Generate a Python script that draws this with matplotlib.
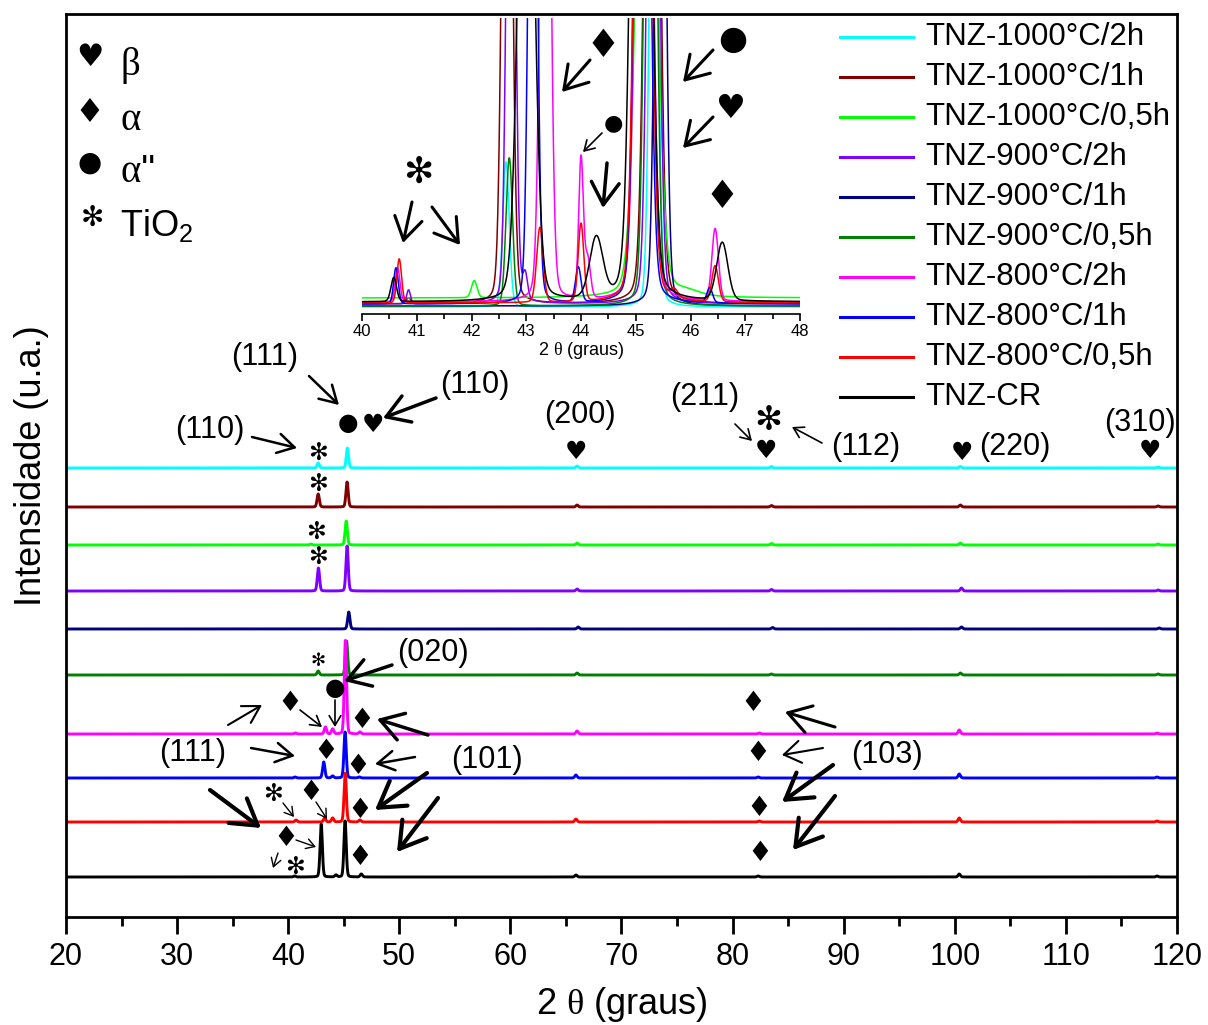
import numpy as np
import matplotlib
matplotlib.use("Agg")
import matplotlib.pyplot as plt
import matplotlib.transforms as mtransforms
from matplotlib.patches import FancyArrowPatch
from matplotlib.lines import Line2D

plt.rcParams['font.family'] = ['Liberation Sans', 'DejaVu Sans']
plt.rcParams['mathtext.fontset'] = 'custom'
plt.rcParams['mathtext.rm'] = 'Liberation Serif'
plt.rcParams['mathtext.sf'] = 'Liberation Sans'

# ---------------- data ----------------
labels = ["TNZ-1000°C/2h", "TNZ-1000°C/1h", "TNZ-1000°C/0,5h",
          "TNZ-900°C/2h", "TNZ-900°C/1h", "TNZ-900°C/0,5h",
          "TNZ-800°C/2h", "TNZ-800°C/1h", "TNZ-800°C/0,5h", "TNZ-CR"]
colors = ["#00FFFF", "#800000", "#00FF00", "#8000FF", "#000080",
          "#008000", "#FF00FF", "#0000FF", "#FF0000", "#000000"]

# vertical offset of each pattern in the stacked plot (u.a.)
offsets = [449, 410, 372, 326, 288, 242, 183, 139, 95, 40]

# reflections of the full scan: (2theta, intensity)
main_peaks = [
    [(42.70, 5), (45.33, 20), (66.0, 2), (83.5, 1.5), (100.5, 1.5), (118.3, 1)],
    [(42.70, 13), (45.30, 25), (66.0, 2), (83.5, 1.5), (100.5, 2), (118.3, 1)],
    [(42.05, 1), (45.22, 24), (66.0, 2), (83.5, 1.5), (100.5, 2), (118.3, 1)],
    [(42.72, 23), (45.30, 45), (66.0, 2), (83.5, 1.5), (100.6, 3), (118.3, 1)],
    [(45.45, 17), (66.1, 2), (83.6, 1.5), (100.6, 2), (118.4, 1)],
    [(42.70, 4), (45.25, 34), (66.0, 2), (83.5, 1), (100.5, 2), (118.3, 1)],
    [(40.65, 1), (43.35, 7), (44.0, 5), (45.15, 94), (46.45, 2), (66.0, 3),
     (82.4, 1), (100.4, 4), (118.2, 1)],
    [(40.62, 1), (43.20, 16), (44.0, 2), (45.12, 46), (46.40, 1), (65.9, 3),
     (82.3, 1), (100.4, 4), (118.2, 1)],
    [(40.70, 2), (43.28, 4), (44.0, 4), (45.13, 49), (46.45, 2), (65.9, 3),
     (82.4, 1), (100.4, 4), (118.2, 1)],
    [(40.58, 1), (42.97, 53), (44.3, 2), (45.12, 56), (46.58, 3), (65.9, 2),
     (82.3, 1), (100.4, 3), (118.2, 1)],
]

# detail 40-48 degrees: background level and (2theta, intensity, hwhm)
inset_base = [7, 10, 16, 10, 8, 8, 12, 10, 11, 12]
inset_peaks = [
    [(42.63, 145, 0.07), (45.33, 700, 0.08)],
    [(40.85, 6, 0.05), (42.65, 900, 0.09), (45.30, 1200, 0.12)],
    [(42.05, 17, 0.06), (45.20, 800, 0.18), (45.90, 5, 0.30)],
    [(40.85, 14, 0.04), (42.72, 800, 0.08), (42.98, 25, 0.05), (45.32, 1000, 0.10)],
    [(45.45, 1000, 0.09)],
    [(42.69, 148, 0.07), (45.27, 1000, 0.10)],
    [(40.65, 34, 0.05), (43.35, 900, 0.09), (44.00, 140, 0.05), (44.12, 40, 0.06),
     (45.15, 1200, 0.13), (46.45, 72, 0.07)],
    [(40.62, 36, 0.05), (43.12, 800, 0.08), (43.95, 35, 0.06), (45.12, 1200, 0.12),
     (46.35, 15, 0.06)],
    [(40.68, 44, 0.05), (43.25, 75, 0.07), (44.00, 78, 0.06), (45.13, 1200, 0.13),
     (45.70, 8, 0.08), (46.45, 36, 0.07)],
    [(40.58, 24, 0.06), (43.00, 700, 0.15), (44.28, 60, 0.14), (45.10, 1400, 0.15),
     (46.58, 58, 0.12)],
]


def pattern(x, peaks, hwhm=None, eta=0.3):
    y = np.zeros_like(x)
    for p in peaks:
        c, h = p[0], p[1]
        w = p[2] if len(p) > 2 else hwhm
        d = (x - c) / w
        y += h * ((1 - eta) * np.exp(-np.log(2) * d ** 2) + eta / (1 + d ** 2))
    return y


# ---------------- figure ----------------
W, H = 1208, 1025
fig = plt.figure(figsize=(W / 100, H / 100), dpi=100)
PX = mtransforms.Affine2D().scale(1 / W, -1 / H).translate(0, 1) + fig.transFigure

ax = fig.add_axes([66 / W, 1 - 917 / H, (1177 - 66) / W, (917 - 14) / H])
x = np.arange(20, 120.0001, 0.02)
for lab, col, off, pk in zip(labels, colors, offsets, main_peaks):
    ax.plot(x, off + pattern(x, pk, hwhm=0.12, eta=0.15), color=col, lw=2.1)

ax.set_xlim(20, 120)
ax.set_ylim(0, 903)
ax.set_yticks([])
ax.set_xticks(np.arange(20, 121, 10))
ax.set_xticks(np.arange(25, 120, 10), minor=True)
ax.tick_params(axis='x', which='major', direction='out', length=12, width=2,
               labelsize=22, pad=6)
ax.tick_params(axis='x', which='minor', direction='out', length=6.5, width=2)
for s in ax.spines.values():
    s.set_linewidth(2)
ax.set_xlabel(r"2 $\mathrm{\theta}$ (graus)", fontsize=26, labelpad=9)
ax.set_ylabel("Intensidade (u.a.)", fontsize=26, labelpad=12)

# ---------------- inset ----------------
axi = fig.add_axes([362 / W, 1 - 314 / H, (800 - 362) / W, (314 - 18) / H])
axi.patch.set_alpha(0)
xi = np.arange(40, 48.0001, 0.005)
for col, base, pk in zip(colors, inset_base, inset_peaks):
    axi.plot(xi, base + pattern(xi, pk, eta=0.12), color=col, lw=1.1)
axi.set_xlim(40, 48)
axi.set_ylim(0, 296)
axi.set_yticks([])
for side in ('top', 'left', 'right'):
    axi.spines[side].set_visible(False)
axi.spines['bottom'].set_linewidth(1.2)
axi.set_xticks(np.arange(40, 49, 1))
axi.set_xticks(np.arange(40.5, 48, 1), minor=True)
axi.tick_params(axis='x', which='major', direction='out', length=5, width=1.2,
                labelsize=12, pad=2)
axi.tick_params(axis='x', which='minor', direction='out', length=3.5, width=1.2)
axi.set_xlabel(r"2 $\mathrm{\theta}$ (graus)", fontsize=13, labelpad=1)

# ---------------- legends ----------------
for i, (lab, col) in enumerate(zip(labels, colors)):
    yy = 37 + 40 * i
    fig.add_artist(Line2D([840, 913], [yy, yy], color=col, lw=2.2, transform=PX))
    fig.text(925, yy, lab, transform=PX, fontsize=22.5, va='center', ha='left')

SYM = ['DejaVu Sans']


def sym(x0, y0, s, size):
    fig.text(x0, y0, s, transform=PX, fontsize=size, ha='center', va='center',
             family=SYM)


def txt(x0, y0, s, size=22, **kw):
    fig.text(x0, y0, s, transform=PX, fontsize=size, ha='center', va='center', **kw)


def arrow(x1, y1, x2, y2, lw=2.5, head=(0.8, 0.5), ms=20):
    style = "->,head_length=%g,head_width=%g" % head
    fig.add_artist(FancyArrowPatch((x1, y1), (x2, y2), transform=PX,
                                   arrowstyle=style, mutation_scale=ms, lw=lw,
                                   color='black', shrinkA=0, shrinkB=0))


# phase key
sym(90, 58, '♥', 22)
sym(89, 112, '♦', 24)
sym(90, 163, '●', 20)
sym(92, 218, '✻', 20)
fig.text(120, 66, r"$\mathrm{\beta}$", transform=PX, fontsize=28, va='center')
fig.text(120, 120, r"$\mathrm{\alpha}$", transform=PX, fontsize=28, va='center')
fig.text(120, 172, r"$\mathrm{\alpha}$''", transform=PX, fontsize=28, va='center')
fig.text(120, 225, r"TiO$_\mathsf{2}$", transform=PX, fontsize=26, va='center')

# beta / alpha'' reflections above the top pattern
txt(265, 357, "(111)")
arrow(309, 376, 339, 405, lw=1.8, head=(0.6, 0.35))
sym(348, 423, '●', 17)
sym(373, 425, '♥', 18)
txt(475, 385, "(110)")
arrow(436, 398, 383, 418, lw=2.5)
txt(210, 430, "(110)")
arrow(252, 437, 297, 448, lw=1.8, head=(0.6, 0.35))
sym(318, 453, '✻', 17)
txt(580, 415, "(200)")
sym(576, 452, '♥', 18)
txt(705, 397, "(211)")
arrow(735, 424, 752, 441, lw=1.2, head=(0.5, 0.3), ms=14)
sym(768, 421, '✻', 24)
sym(766, 451, '♥', 18)
arrow(822, 443, 792, 427, lw=1.2, head=(0.5, 0.3), ms=14)
txt(866, 447, "(112)")
sym(962, 453, '♥', 18)
txt(1015, 447, "(220)")
txt(1140, 423, "(310)")
sym(1150, 451, '♥', 18)

# TiO2 marks on the stacked patterns
sym(318, 484, '✻', 17)
sym(316, 532, '✻', 17)
sym(318, 557, '✻', 17)
sym(318, 661, '✻', 13)

# alpha / alpha'' reflections on the lower patterns
txt(433, 653, "(020)")
arrow(392, 665, 344, 681, lw=2.5)
sym(335, 688, '●', 17)
arrow(335, 700, 335, 727, lw=1.2, head=(0.5, 0.3), ms=14)
sym(290, 703, '♦', 20)
arrow(300, 710, 322, 727, lw=1.2, head=(0.5, 0.3), ms=14)
arrow(228, 725, 262, 705, lw=1.5, head=(0.6, 0.35))
sym(362, 720, '♦', 20)
arrow(428, 735, 377, 719, lw=2.5)
txt(193, 753, "(111)")
arrow(251, 748, 295, 756, lw=1.8, head=(0.6, 0.35))
sym(326, 751, '♦', 20)
sym(358, 766, '♦', 20)
arrow(415, 757, 375, 764, lw=1.8, head=(0.6, 0.35))
txt(487, 760, "(101)")
arrow(427, 773, 375, 810, lw=3, head=(0.9, 0.55))
sym(360, 810, '♦', 20)
arrow(438, 798, 397, 852, lw=3, head=(0.9, 0.55))
sym(360, 857, '♦', 20)
arrow(210, 790, 261, 828, lw=3, head=(0.9, 0.55))
sym(273, 794, '✻', 17)
arrow(283, 803, 294, 817, lw=1.0, head=(0.5, 0.3), ms=12)
sym(311, 792, '♦', 20)
arrow(316, 802, 327, 819, lw=1.0, head=(0.5, 0.3), ms=12)
sym(286, 838, '♦', 20)
arrow(296, 840, 316, 847, lw=1.0, head=(0.5, 0.3), ms=12)
arrow(278, 853, 273, 868, lw=1.0, head=(0.5, 0.3), ms=12)
sym(295, 867, '✻', 17)

# alpha (103) reflection
sym(753, 703, '♦', 20)
arrow(835, 727, 785, 712, lw=2.2, head=(0.8, 0.5))
sym(758, 753, '♦', 20)
arrow(823, 748, 782, 755, lw=1.5, head=(0.6, 0.4))
txt(887, 755, "(103)")
arrow(833, 765, 782, 802, lw=3, head=(0.9, 0.55))
sym(759, 808, '♦', 20)
arrow(835, 796, 793, 850, lw=3, head=(0.9, 0.55))
sym(760, 853, '♦', 20)

# marks inside the 40-48 degree detail
sym(418, 173, '✻', 26)
arrow(412, 202, 403, 243, lw=2.2)
arrow(432, 207, 460, 245, lw=2.2)
sym(603, 46, '♦', 28)
arrow(590, 60, 562, 92, lw=2.2)
sym(733, 39, '●', 24)
arrow(713, 50, 683, 82, lw=2.2)
sym(730, 108, '♥', 24)
arrow(713, 117, 683, 148, lw=2.2)
sym(613, 123, '●', 16)
arrow(602, 133, 583, 152, lw=1.2, head=(0.5, 0.3), ms=14)
arrow(607, 163, 603, 208, lw=2.5)
sym(722, 197, '♦', 28)

fig.savefig("out.png", dpi=100)
